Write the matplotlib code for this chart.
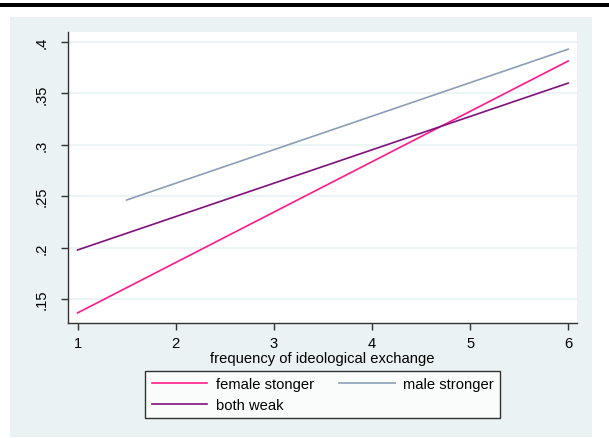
import numpy as np
import matplotlib.pyplot as plt
from matplotlib.patches import Rectangle

plt.rcParams['font.family'] = ['Liberation Sans', 'DejaVu Sans']

# fitted lines: start and end points
female_x = [1, 6]
female_y = [0.1365, 0.3815]
male_x = [1.5, 6]
male_y = [0.2463, 0.393]
weak_x = [1, 6]
weak_y = [0.1977, 0.360]

yticks = [0.15, 0.2, 0.25, 0.3, 0.35, 0.4]
ylabels = ['.15', '.2', '.25', '.3', '.35', '.4']
xticks = [1, 2, 3, 4, 5, 6]

bg = '#eaf2f3'
fs = 10.6

fig = plt.figure(figsize=(6.09, 4.39), dpi=100)
fig.patch.set_facecolor('white')
fig.patches.append(Rectangle((10/609, 1-438/439), 582/609, 420/439,
                             transform=fig.transFigure, facecolor=bg, edgecolor='none', zorder=-10))
fig.patches.append(Rectangle((0, 1-8/439), 1, 4/439,
                             transform=fig.transFigure, facecolor='black', edgecolor='none', zorder=-10))

ax = fig.add_axes([68/609, 1-324/439, 509/609, 291/439])
ax.set_facecolor('white')

ax.plot(female_x, female_y, color='#ff1a8c', lw=1.2, label='female stonger')
ax.plot(male_x, male_y, color='#8a9fb5', lw=1.2, label='male stronger')
ax.plot(weak_x, weak_y, color='#80107f', lw=1.2, label='both weak')

ax.set_xlim(0.903, 6.09)
ax.set_ylim(0.1267, 0.4097)
ax.set_yticks(yticks)
ax.set_yticklabels(ylabels, rotation=90, va='center')
ax.set_xticks(xticks)
ax.grid(axis='y', color=bg, lw=1.2)
ax.set_axisbelow(True)

for s in ['top', 'right']:
    ax.spines[s].set_visible(False)
for s in ['left', 'bottom']:
    ax.spines[s].set_color('#333333')
    ax.spines[s].set_linewidth(1.0)
ax.tick_params(colors='#333333', labelcolor='black', labelsize=fs, length=5, width=1)
ax.tick_params(axis='y', pad=9)
ax.tick_params(axis='x', pad=4)

ax.set_xlabel('frequency of ideological exchange', fontsize=fs, labelpad=1)

h, l = ax.get_legend_handles_labels()
order = [0, 2, 1]
leg = fig.legend([h[i] for i in order], [l[i] for i in order], ncol=2, loc='center',
                 bbox_to_anchor=(322.5/609, 1-395.5/439),
                 fontsize=fs, frameon=True, fancybox=False, edgecolor='black',
                 handlelength=3.8, handletextpad=0.55, columnspacing=1.7,
                 borderpad=0.45, labelspacing=0.45)
leg.get_frame().set_linewidth(1.0)

fig.savefig('out.png', dpi=100)
